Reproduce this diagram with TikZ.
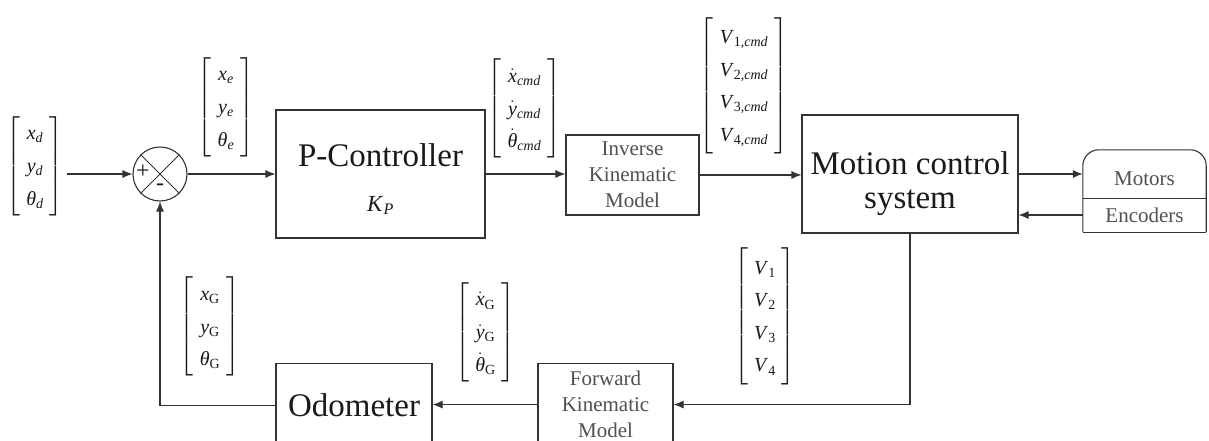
\documentclass[tikz,border=0pt]{standalone}
\usepackage{amsmath}
\usepackage{fontspec}
\setmainfont{Liberation Serif}
\usetikzlibrary{arrows.meta}

\definecolor{linec}{HTML}{333333}
\definecolor{graytext}{HTML}{505050}
\definecolor{inkc}{HTML}{1A1A1A}

\newcommand{\vfont}{\fontsize{20}{24}\selectfont}
\renewcommand{\arraystretch}{1.36}
% italic symbol with a subscript
\newcommand{\sv}[2]{\textit{#1}\textsubscript{#2}}
% italic symbol with a dot above
\newcommand{\dt}[1]{\ensuremath{\dot{\mbox{\textit{#1}}}}}
% bracketed column of entries
\newcommand{\colv}[1]{$\left[\begin{tabular}{c}#1\end{tabular}\right]$}

\tikzset{
  box/.style={draw=linec, line width=1.1pt, rectangle, inner sep=0pt, align=center, text=inkc},
  arr/.style={draw=linec, line width=1.1pt, -{Latex[length=10pt,width=8pt]}},
  vec/.style={inner sep=0pt, text=inkc, font=\vfont},
  small/.style={font=\fontsize{21}{26}\selectfont, text=graytext},
  big/.style={font=\fontsize{33}{34}\selectfont}
}

\begin{document}
\begin{tikzpicture}[x=1pt,y=-1pt]
\useasboundingbox (0,0) rectangle (1209,441);
\fill[white] (0,0) rectangle (1209,441);
\clip (0,0) rectangle (1209,441);

% summing junction
\node[circle, draw=linec, line width=1.1pt, minimum size=54pt, inner sep=0pt] (sum) at (160,174) {};
\draw[linec, line width=1pt] (sum.north west) -- (sum.south east);
\draw[linec, line width=1pt] (sum.north east) -- (sum.south west);
\node[text=inkc, font=\fontsize{24}{24}\selectfont, inner sep=0pt] (plus) at (143,172) {+};
\node[text=inkc, font=\fontsize{24}{24}\selectfont, inner sep=0pt] (minus) at (160,187) {-};

% blocks
\node[box, big, minimum width=209pt, minimum height=128pt] (pc) at (380.5,174)
  {\rule{0pt}{33pt}P-Controller\\[11pt]{\fontsize{23}{28}\selectfont \sv{K}{\textit{P}}}};
\node[box, small, minimum width=133pt, minimum height=80pt] (ik) at (632.5,175)
  {Inverse\\Kinematic\\Model};
\node[box, big, minimum width=216pt, minimum height=118pt] (mc) at (910,174)
  {\rule{0pt}{43pt}Motion control\\system};
\node[small, minimum width=123pt, minimum height=48pt, inner sep=0pt] (mot) at (1144.5,174)
  {\raisebox{-5pt}[\height][\depth]{Motors}};
\node[small, minimum width=123pt, minimum height=34pt, inner sep=0pt] (enc) at (1144.5,215) {Encoders};
\draw[linec, line width=1.1pt, rounded corners=16pt]
  (enc.south west) -- (mot.north west) -- (mot.north east) -- (enc.south east);
\draw[linec, line width=1.1pt] (enc.south west) -- (enc.south east);
\draw[linec, line width=1.1pt] (mot.south west) -- (mot.south east);
\node[box, small, minimum width=135pt, minimum height=82pt, anchor=north] (fk) at (605.5,363)
  {Forward\\Kinematic\\Model};
\node[box, big, minimum width=156pt, minimum height=84pt, anchor=north] (od) at (354,363)
  {Odometer};

% signal vectors
\node[vec] (vd) at (35,166) {\colv{\sv{x}{\textit{d}}\\ \sv{y}{\textit{d}}\\ \sv{θ}{\textit{d}}}};
\node[vec] (ve) at (226,107) {\colv{\sv{x}{\textit{e}}\\ \sv{y}{\textit{e}}\\ \sv{θ}{\textit{e}}}};
\node[vec] (vcmd) at (524.5,108.5) {\colv{\dt{x}\textsubscript{\textit{cmd}}\\ \dt{y}\textsubscript{\textit{cmd}}\\ \dt{θ}\textsubscript{\textit{cmd}}}};
\node[vec] (vvcmd) at (744,86) {\colv{\sv{V}{1,\textit{cmd}}\\ \sv{V}{2,\textit{cmd}}\\ \sv{V}{3,\textit{cmd}}\\ \sv{V}{4,\textit{cmd}}}};
\node[vec] (vv) at (765,316.5) {\colv{\sv{V}{1}\\ \sv{V}{2}\\ \sv{V}{3}\\ \sv{V}{4}}};
\node[vec] (vg) at (210,326.5) {\colv{\sv{x}{G}\\ \sv{y}{G}\\ \sv{θ}{G}}};
\node[vec] (vgd) at (485.5,332) {\colv{\dt{x}\textsubscript{G}\\ \dt{y}\textsubscript{G}\\ \dt{θ}\textsubscript{G}}};

% connectors
\draw[arr] ([xshift=3pt]vd.east |- sum.west) -- (sum.west);
\draw[arr] (sum.east) -- (pc.west);
\draw[arr] (pc.east) -- (pc.east -| ik.west);
\draw[arr] (ik.east) -- (ik.east -| mc.west);
\draw[arr] (mc.east) -- (mc.east -| mot.west);
\draw[arr] (enc.west) -- (enc.west -| mc.east);
\draw[arr] (mc.south) |- (fk.east);
\draw[arr] (fk.west) -- (fk.west -| od.east);
\draw[arr] (od.west) -| (sum.south);
\end{tikzpicture}
\end{document}
